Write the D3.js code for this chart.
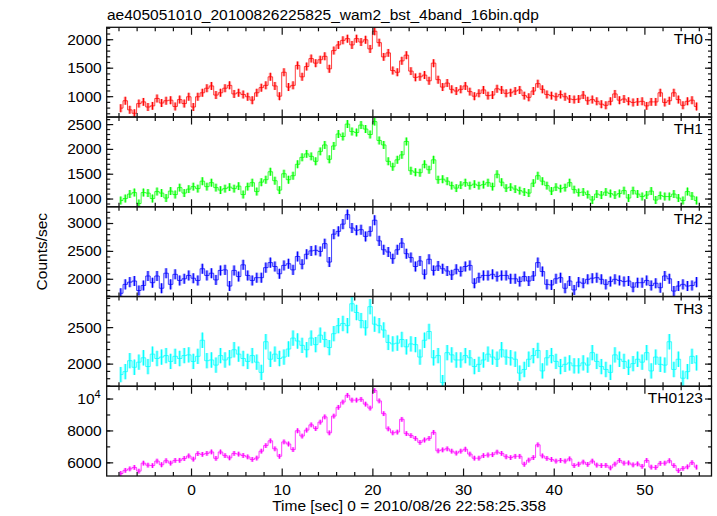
<!DOCTYPE html>
<html><head><meta charset="utf-8">
<script src="https://cdn.jsdelivr.net/npm/d3@7"></script>
<style>
body{margin:0;background:#fff}
svg{display:block}
text{font-family:"Liberation Sans",Arial,Helvetica,sans-serif;fill:#000}
</style>
</head><body>
<svg id="c" width="717" height="516"></svg>
<script>
const title = "ae405051010_20100826225825_wam2_bst_4band_16bin.qdp";
const xLabel = "Time [sec] 0 = 2010/08/26 22:58:25.358";
const yLabel = "Counts/sec";
const panelNames = ["TH0", "TH1", "TH2", "TH3", "TH0123"];
const panelColors = ["#ff0000", "#00ff00", "#0000ff", "#00ffff", "#ff00ff"];
const t0 = -7.75, binWidth = 0.5;

const th0 = [
 790,920,760,700,870,900,810,830,960,880,920,930,820,940,870,990,
 810,990,1060,1140,1180,1020,1060,1140,1190,1040,1060,1030,990,930,1060,1150,
 1190,1340,1180,1000,1420,1160,1190,1540,1340,1520,1660,1580,1640,1700,1480,1800,
 1900,1980,2010,1900,2010,1950,1990,1830,2140,1940,1690,1760,1450,1420,1620,1720,
 1440,1330,1340,1370,1270,1580,1290,1160,1230,1120,1090,1120,1180,1080,1000,1050,
 1110,1010,1020,1130,1110,1050,1060,1090,1110,1010,980,1090,1220,1120,1030,1010,
 990,1030,990,950,940,950,1020,920,940,910,860,840,910,1040,930,950,
 910,890,900,910,830,900,900,1060,890,920,1060,940,840,910,930,820];
const th1 = [
 960,1000,1090,1120,900,1120,1110,1000,1140,1110,1010,1150,1080,1220,1110,1190,
 1240,1200,1350,1240,1320,1220,1170,1200,1230,1200,1250,1080,1240,1320,1140,1330,
 1380,1540,1360,1170,1500,1380,1460,1690,1830,1900,1850,1750,1950,2080,1790,2060,
 2300,2250,2500,2350,2330,2480,2400,2290,2550,2170,2080,1750,1640,1780,1880,2150,
 1560,1530,1520,1690,1580,1780,1380,1390,1350,1260,1210,1270,1320,1260,1290,1260,
 1280,1320,1240,1490,1330,1210,1230,1190,1160,1130,1110,1310,1460,1350,1260,1150,
 1230,1200,1220,1320,1180,1120,1130,1080,970,1090,1070,1130,1100,1070,1100,1160,
 1010,1160,1090,1040,1070,1150,970,1060,1040,1040,1090,1010,960,1140,1050,960];
const th2 = [
 1740,1900,1940,1960,1790,1880,2050,1930,2050,1830,2100,1900,2080,1970,2000,2060,
 2010,1970,2180,2060,2100,1980,2150,2160,1870,2150,2040,2250,2060,1970,2020,2020,
 2200,2290,2220,2090,2240,2270,2160,2400,2260,2440,2500,2510,2490,2630,2300,2800,
 2850,2980,3150,2910,2870,2880,2760,2850,3050,2680,2520,2480,2360,2520,2640,2450,
 2380,2220,2320,2080,2350,2150,2230,2180,2140,2070,2170,2130,2220,2240,1920,2020,
 2060,2060,2080,2040,2060,2060,2000,2000,1950,2040,1960,2050,2290,2130,1900,1890,
 2000,2020,1830,1960,1800,1940,1920,1990,2010,2020,1990,1900,1950,1990,1970,1950,
 1960,1850,1930,1930,1970,1880,1920,1840,2050,2000,1780,1870,1900,1870,1880,1940];
const th3 = [
 1850,1890,2040,1950,2020,2080,1960,2130,2070,2090,2110,2030,2100,2070,2110,2120,
 2030,2100,2320,2040,2050,1980,2110,2050,2080,2190,2130,2070,2030,2110,2020,1880,
 2300,2060,2130,2070,2090,2200,2350,2310,2250,2190,2350,2260,2390,2330,2220,2410,
 2520,2550,2520,2820,2700,2590,2490,2780,2540,2520,2460,2290,2270,2280,2330,2230,
 2270,2260,2090,2320,2440,2080,2110,1740,2150,2120,2050,2050,2110,2080,1960,1990,
 2050,2130,2090,2060,2190,2090,2080,2060,1870,1920,2060,2110,2180,1900,2080,2110,
 2030,1960,1990,2010,1970,1970,2010,1980,2150,2030,1960,1920,1880,2120,2060,2030,
 1950,2000,2060,2020,2150,1900,2090,1990,1980,2300,1920,2060,1800,1890,2100,2010];
const th0123 = [
 5300,5500,5590,5680,5450,5950,5820,5800,6080,5850,6100,5950,6120,6130,6240,6400,
 6200,6550,6500,6560,6650,6250,6650,6420,6280,6560,6520,6430,6340,6180,6270,6700,
 7050,7350,6850,6380,7280,7150,6800,7980,7650,8020,8350,8120,8520,8850,7850,8900,
 9450,9780,10200,9900,9900,9950,9650,9400,10500,9850,9050,8100,7850,7900,8700,7800,
 7680,7500,7250,7400,7500,7880,6720,6780,6850,6700,6580,6700,6820,6520,6260,6260,
 6420,6460,6480,6640,6560,6350,6300,6380,6380,5880,6140,6300,7100,6400,6250,6180,
 6080,6120,6080,6220,5800,5880,6020,5870,6080,5830,5800,5810,5650,5890,6120,5950,
 5960,5840,5900,5750,6120,5700,5680,5940,5950,6100,5800,5480,5620,5720,5980,5700];
const seriesValues = [th0, th1, th2, th3, th0123];
const seriesErrors = [70, 80, 90, 105, 150];

const xDomain = [-9.3, 57.4];
const xMajorTicks = [0, 10, 20, 30, 40, 50];
const yDomains = [[634, 2209], [834, 2642], [1682, 3291], [1690, 2919], [5144, 10769]];
const yMajorTicks = [[1000, 1500, 2000], [1000, 1500, 2000, 2500], [2000, 2500, 3000], [2000, 2500], [6000, 8000, 10000]];
const yMinorStep = [100, 100, 100, 100, 1000];

const svg = d3.select("#c");
const L = 106.7, R = 711.5, T = 27.3, B = 476, nP = 5;
const pH = (B - T) / nP;
const x = d3.scaleLinear().domain(xDomain).range([L, R]);
const xMinor = d3.range(-8, 58, 2).filter(v => v % 10 !== 0);

svg.append("text").attr("x", 107).attr("y", 20).attr("font-size", 15.5).text(title);

panelNames.forEach((name, i) => {
  const top = T + i * pH, bot = top + pH;
  const y = d3.scaleLinear().domain(yDomains[i]).range([bot, top]);
  const g = svg.append("g");
  const color = panelColors[i];
  const vals = seriesValues[i];
  const err = seriesErrors[i];
  const data = vals.map((v, k) => ({t: t0 + k * binWidth, v}));

  const clipId = "clip" + i;
  svg.append("clipPath").attr("id", clipId).append("rect")
    .attr("x", L).attr("y", top).attr("width", R - L).attr("height", pH);
  const dg = g.append("g").attr("clip-path", `url(#${clipId})`);

  // light error halo
  dg.selectAll("rect.halo").data(data).join("rect")
    .attr("x", d => x(d.t) - 1.6).attr("width", 3.2)
    .attr("y", d => y(d.v + err)).attr("height", d => y(d.v - err) - y(d.v + err))
    .attr("fill", color).attr("opacity", 0.35);
  // step line (bin widths)
  const line = d3.line().x(d => x(d.t)).y(d => y(d.v)).curve(d3.curveStep);
  dg.append("path").datum(data).attr("d", line)
    .attr("fill", "none").attr("stroke", color).attr("stroke-width", 1).attr("opacity", 0.75);
  // error bars
  dg.selectAll("line.eb").data(data).join("line")
    .attr("x1", d => x(d.t)).attr("x2", d => x(d.t))
    .attr("y1", d => y(d.v + err)).attr("y2", d => y(d.v - err))
    .attr("stroke", color).attr("stroke-width", 1.1);

  // axes (inward ticks)
  const yMin = d3.range(Math.ceil(yDomains[i][0] / yMinorStep[i]) * yMinorStep[i], yDomains[i][1], yMinorStep[i]);
  const axG = g.append("g").attr("class", "ax");
  axG.append("g").attr("transform", `translate(${L},0)`)
    .call(d3.axisLeft(y).tickValues(yMin).tickSize(-3.5).tickFormat(""));
  axG.append("g").attr("transform", `translate(${L},0)`)
    .call(d3.axisLeft(y).tickValues(yMajorTicks[i]).tickSize(-6.5).tickPadding(5)
      .tickFormat(v => v === 10000 ? "" : d3.format("d")(v)));
  axG.append("g").attr("transform", `translate(${R},0)`)
    .call(d3.axisRight(y).tickValues(yMin).tickSize(-3.5).tickFormat(""));
  axG.append("g").attr("transform", `translate(${R},0)`)
    .call(d3.axisRight(y).tickValues(yMajorTicks[i]).tickSize(-6.5).tickFormat(""));
  axG.append("g").attr("transform", `translate(0,${top})`)
    .call(d3.axisTop(x).tickValues(xMinor).tickSize(-4).tickFormat(""));
  axG.append("g").attr("transform", `translate(0,${top})`)
    .call(d3.axisTop(x).tickValues(xMajorTicks).tickSize(-7.5).tickFormat(""));
  axG.append("g").attr("transform", `translate(0,${bot})`)
    .call(d3.axisBottom(x).tickValues(xMinor).tickSize(-4).tickFormat(""));
  axG.append("g").attr("transform", `translate(0,${bot})`)
    .call(d3.axisBottom(x).tickValues(xMajorTicks).tickSize(-7.5).tickPadding(8)
      .tickFormat(i === nP - 1 ? d3.format("d") : ""));
  axG.selectAll(".domain").remove();
  axG.selectAll(".tick line").attr("stroke", "#111").attr("stroke-width", 1.2);
  axG.selectAll("text").attr("font-size", 15.5).attr("font-family", '"Liberation Sans",Arial,sans-serif').attr("fill", "#000");

  // 10^4 label
  if (yMajorTicks[i].includes(10000)) {
    const tt = g.append("text").attr("x", L - 6).attr("y", y(10000) + 5.5)
      .attr("text-anchor", "end").attr("font-size", 15.5);
    tt.append("tspan").text("10");
    tt.append("tspan").attr("dy", -6).attr("font-size", 11).text("4");
  }

  // frame
  g.append("rect").attr("x", L).attr("y", top).attr("width", R - L).attr("height", pH)
    .attr("fill", "none").attr("stroke", "#111").attr("stroke-width", 1.3);

  g.append("text").attr("x", 703).attr("y", top + 17).attr("text-anchor", "end")
    .attr("font-size", 15.5).text(name);
});

svg.append("text").attr("transform", `translate(47,${(T + B) / 2}) rotate(-90)`)
  .attr("text-anchor", "middle").attr("font-size", 15.5).text(yLabel);
svg.append("text").attr("x", (L + R) / 2).attr("y", 511).attr("text-anchor", "middle")
  .attr("font-size", 15.5).text(xLabel);
</script>
</body></html>
